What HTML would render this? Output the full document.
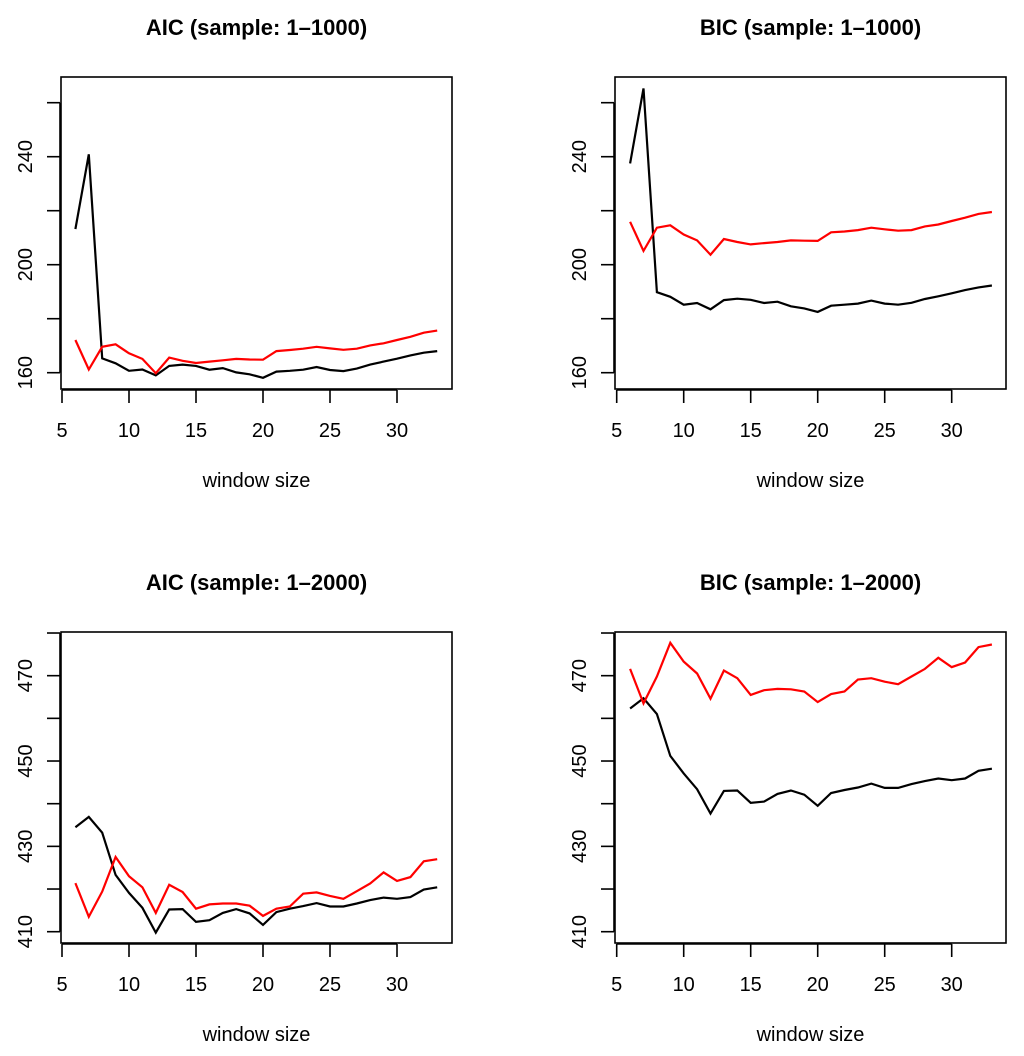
<!DOCTYPE html>
<html><head><meta charset="utf-8"><style>
html,body{margin:0;padding:0;background:#fff;}
svg{display:block;font-family:"Liberation Sans",Arial,sans-serif;}
</style></head><body>
<svg id="chart" width="1024" height="1056" viewBox="0 0 1024 1056" xmlns="http://www.w3.org/2000/svg"></svg>
<script>
const windowSizes = [6,7,8,9,10,11,12,13,14,15,16,17,18,19,20,21,22,23,24,25,26,27,28,29,30,31,32,33];
const aic1000Black = [213.2,240.9,165.3,163.5,160.7,161.2,159,162.5,163,162.5,161.1,161.7,160.1,159.4,158.1,160.4,160.7,161.1,162.1,161,160.6,161.5,163,164.1,165.2,166.4,167.4,168];
const aic1000Red = [172.1,161.2,169.6,170.5,167.2,165.1,159.8,165.6,164.4,163.6,164.1,164.6,165.1,164.9,164.8,168,168.4,168.9,169.6,169,168.5,168.9,170.1,170.9,172.1,173.3,174.8,175.6];
const bic1000Black = [237.5,265.3,189.8,188.1,185.2,185.8,183.5,186.9,187.4,187,185.8,186.3,184.6,183.8,182.5,184.8,185.2,185.6,186.7,185.6,185.2,185.9,187.3,188.3,189.4,190.6,191.6,192.3];
const bic1000Red = [215.9,205.1,213.7,214.6,211.2,209,203.7,209.5,208.4,207.5,208,208.4,209,208.9,208.8,212,212.3,212.8,213.7,213.1,212.6,212.8,214.2,214.9,216.2,217.4,218.8,219.5];
const aic2000Black = [434.5,436.9,433.2,423.3,419.1,415.6,409.8,415.2,415.3,412.3,412.7,414.4,415.3,414.3,411.6,414.6,415.4,416,416.7,415.9,415.9,416.6,417.4,418,417.7,418.1,419.9,420.4];
const aic2000Red = [421.4,413.5,419.4,427.5,423,420.4,414.4,421,419.3,415.4,416.4,416.6,416.6,416.1,413.7,415.4,415.9,418.9,419.2,418.4,417.7,419.5,421.3,423.9,421.9,422.8,426.5,427];
const bic2000Black = [462.3,464.7,461,451.2,447.1,443.4,437.7,443,443.1,440.2,440.5,442.3,443.1,442.1,439.5,442.5,443.2,443.8,444.7,443.7,443.7,444.6,445.3,445.9,445.5,445.9,447.7,448.2];
const bic2000Red = [471.6,463.5,469.8,477.7,473.3,470.5,464.6,471.2,469.4,465.5,466.6,466.9,466.8,466.3,463.8,465.7,466.3,469.1,469.4,468.6,468,469.8,471.6,474.2,472,473.1,476.7,477.3];
const xTicks = [5,10,15,20,25,30];
const yTicksTop = [160,180,200,220,240,260];
const yLabelsTop = [160,200,240];
const yTicksBottom = [410,420,430,440,450,460,470,480];
const yLabelsBottom = [410,430,450,470];

const NS = "http://www.w3.org/2000/svg";
const svg = document.getElementById('chart');
function mk(tag, attrs, parent){
  const e = document.createElementNS(NS, tag);
  for (const k in attrs) e.setAttribute(k, attrs[k]);
  (parent||svg).appendChild(e);
  return e;
}
function panel(cfg){
  const g = mk('g', {});
  
  
  const xs = v => cfg.x5 + (v-5)*cfg.xu;
  const ys = v => cfg.yRef - (v-cfg.vRef)*cfg.yu;
  const t = mk('text', {x:(cfg.left+cfg.right)/2, y:cfg.top-42, 'text-anchor':'middle', 'font-size':'22', 'font-weight':'bold'}, g);
  t.textContent = cfg.title;
  
  
  const box = mk('rect', {x:cfg.left, y:cfg.top, width:cfg.right-cfg.left, height:cfg.bottom-cfg.top, fill:'none', stroke:'#000', 'stroke-width':'1.6'}, g);
  
  
  const xa = mk('g', {}, g);
  
  
  const ax0 = cfg.bottom + 1;
  mk('line', {x1:xs(xTicks[0]), x2:xs(xTicks[xTicks.length-1]), y1:ax0, y2:ax0, stroke:'#000', 'stroke-width':'1.6'}, xa);
  xTicks.forEach(v => {
    mk('line', {x1:xs(v), x2:xs(v), y1:ax0, y2:ax0+13, stroke:'#000', 'stroke-width':'1.6'}, xa);
    const tl = mk('text', {x:xs(v), y:ax0+47, 'text-anchor':'middle', 'font-size':'20'}, xa);
    tl.textContent = v;
    
    
  });
  const xl = mk('text', {x:(cfg.left+cfg.right)/2, y:cfg.bottom+98, 'text-anchor':'middle', 'font-size':'20'}, g);
  xl.textContent = 'window size';
  
  
  const ya = mk('g', {}, g);
  
  
  const ax1 = cfg.left - 1;
  mk('line', {x1:ax1, x2:ax1, y1:ys(cfg.yTicks[0]), y2:ys(cfg.yTicks[cfg.yTicks.length-1]), stroke:'#000', 'stroke-width':'1.6'}, ya);
  cfg.yTicks.forEach(v => {
    mk('line', {x1:ax1-13, x2:ax1, y1:ys(v), y2:ys(v), stroke:'#000', 'stroke-width':'1.6'}, ya);
  });
  cfg.yLabels.forEach(v => {
    const lx = ax1-28, ly = ys(v);
    const tl = mk('text', {x:lx, y:ly, 'text-anchor':'middle', 'font-size':'20', transform:`rotate(-90 ${lx} ${ly})`}, ya);
    tl.textContent = v;
    
    
  });
  [[cfg.black,'#000','series-black'],[cfg.red,'#ff0000','series-red']].forEach(([arr,col,nm]) => {
    const pts = arr.map((v,i) => xs(windowSizes[i]).toFixed(1)+','+ys(v).toFixed(1)).join(' ');
    const pl = mk('polyline', {points:pts, fill:'none', stroke:col, 'stroke-width':'2.2'}, g);
    
    
  });
}
panel({name:'aic-1000-panel', title:'AIC (sample: 1\u20131000)', left:61, right:452, top:77, bottom:389, x5:62, xu:13.4, yRef:372.7, vRef:160, yu:2.7, yTicks:yTicksTop, yLabels:yLabelsTop, black:aic1000Black, red:aic1000Red});
panel({name:'bic-1000-panel', title:'BIC (sample: 1\u20131000)', left:615, right:1006, top:77, bottom:389, x5:616.7, xu:13.4, yRef:372.7, vRef:160, yu:2.7, yTicks:yTicksTop, yLabels:yLabelsTop, black:bic1000Black, red:bic1000Red});
panel({name:'aic-2000-panel', title:'AIC (sample: 1\u20132000)', left:61, right:452, top:632, bottom:943, x5:62, xu:13.4, yRef:931.7, vRef:410, yu:4.267, yTicks:yTicksBottom, yLabels:yLabelsBottom, black:aic2000Black, red:aic2000Red});
panel({name:'bic-2000-panel', title:'BIC (sample: 1\u20132000)', left:615, right:1006, top:632, bottom:943, x5:616.7, xu:13.4, yRef:931.7, vRef:410, yu:4.267, yTicks:yTicksBottom, yLabels:yLabelsBottom, black:bic2000Black, red:bic2000Red});
</script>
</body></html>
